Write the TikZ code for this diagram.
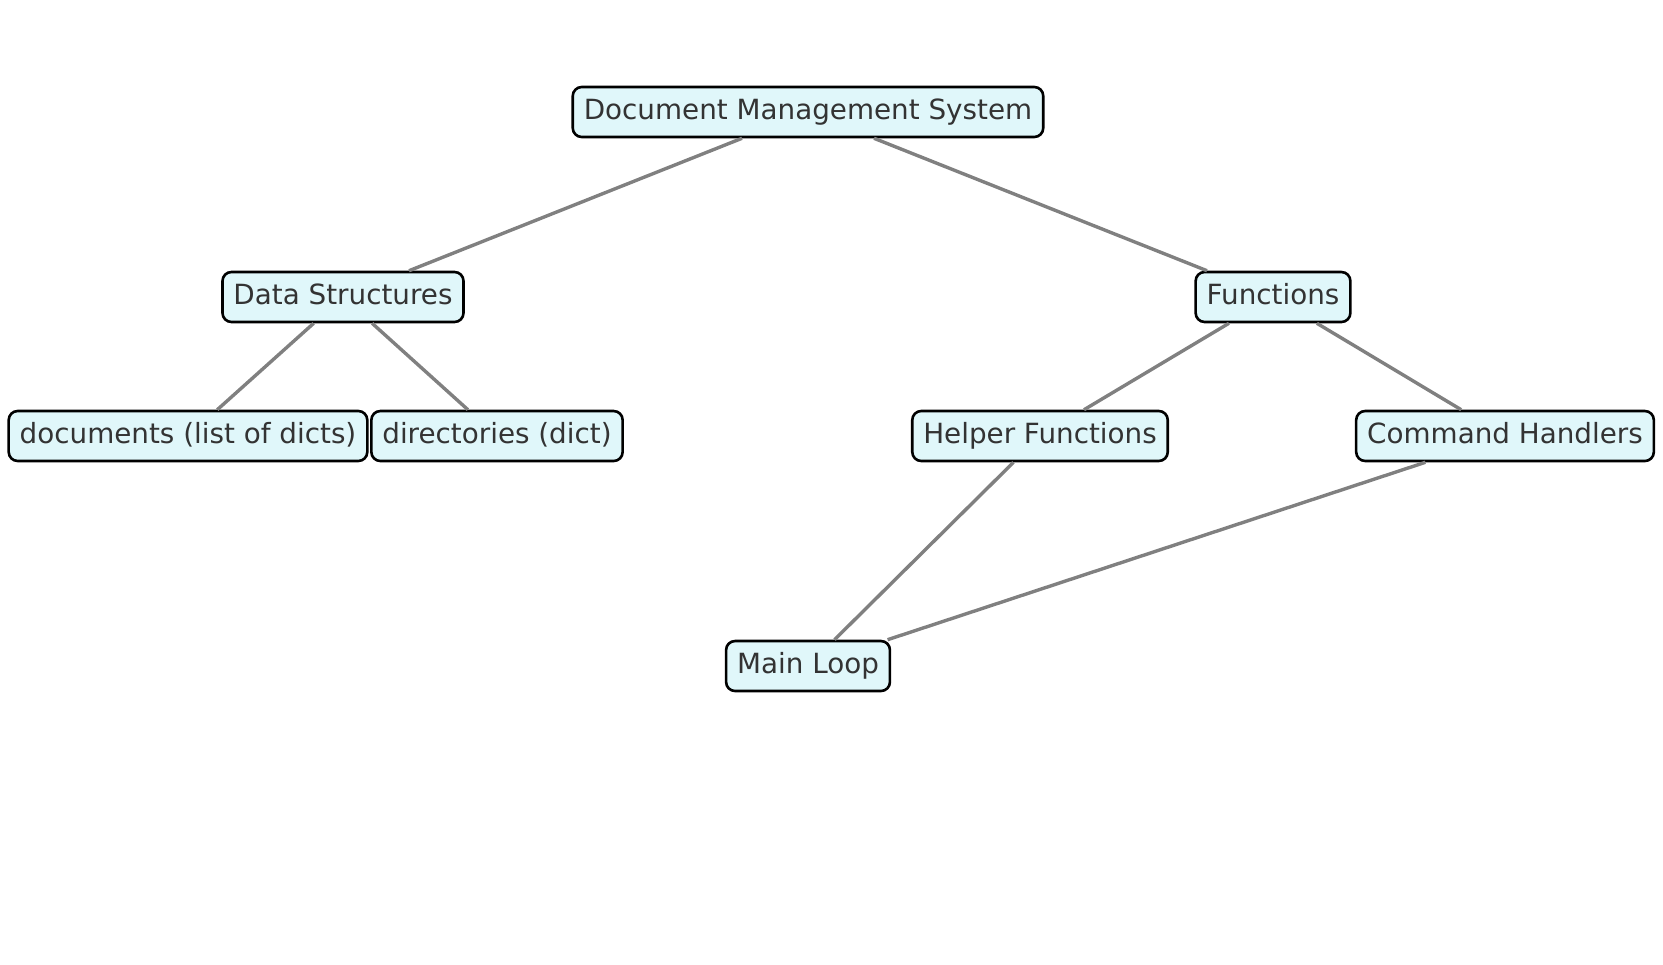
\documentclass[tikz,border=0pt]{standalone}
\usepackage{fontspec}
\setmainfont{DejaVu Sans}
\usepackage{tikz}

\definecolor{boxfill}{HTML}{E0F7FA}
\definecolor{textgray}{HTML}{333333}
\definecolor{edgegray}{HTML}{808080}

\tikzset{
  topic/.style={draw=black, fill=boxfill, text=textgray, line width=1.3pt,
    rounded corners=4.5pt, inner xsep=5.5pt, inner ysep=0pt,
    minimum height=25pt, text height=10.5pt, text depth=3.2pt,
    font=\fontsize{13.9}{16}\selectfont},
  link/.style={draw=edgegray, line width=1.7pt}
}

\begin{document}
\begin{tikzpicture}[x=0.5pt,y=-0.5pt]
\useasboundingbox (0,0) rectangle (1663,964);
% Nodes
\node[topic] (dms) at (808,112) {Document Management System};
\node[topic] (data) at (343,297) {Data Structures};
\node[topic] (func) at (1273,297) {Functions};
\node[topic] (docs) at (188,436) {documents (list of dicts)};
\node[topic] (dirs) at (497,436) {directories (dict)};
\node[topic] (helper) at (1040,436) {Helper Functions};
\node[topic] (cmd) at (1505,436) {Command Handlers};
\node[topic] (loop) at (808,666) {Main Loop};

% Links
\draw[link] (dms) -- (data);
\draw[link] (dms) -- (func);
\draw[link] (data) -- (docs);
\draw[link] (data) -- (dirs);
\draw[link] (func) -- (helper);
\draw[link] (func) -- (cmd);
\draw[link] (helper) -- (loop);
\draw[link] (cmd) -- (loop);
\end{tikzpicture}
\end{document}
